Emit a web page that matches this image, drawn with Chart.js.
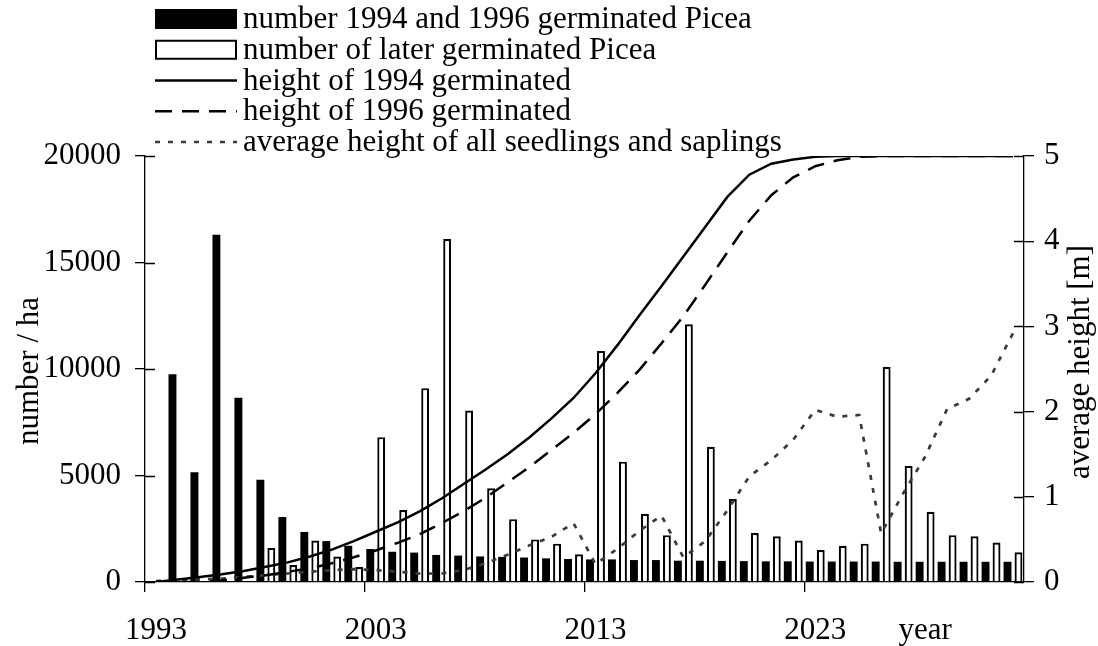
<!DOCTYPE html>
<html>
<head>
<meta charset="utf-8">
<title>Picea seedlings</title>
<script src="https://cdn.jsdelivr.net/npm/chart.js@4.4.0/dist/chart.umd.min.js"></script>
<style>
  html, body { margin: 0; padding: 0; background: #fff; }
  canvas { display: block; }
</style>
</head>
<body>
<canvas id="chart" width="1098" height="646"></canvas>
<script>
const years = ['1993', '1994', '1995', '1996', '1997', '1998', '1999', '2000', '2001', '2002',
  '2003', '2004', '2005', '2006', '2007', '2008', '2009', '2010', '2011', '2012',
  '2013', '2014', '2015', '2016', '2017', '2018', '2019', '2020', '2021', '2022',
  '2023', '2024', '2025', '2026', '2027', '2028', '2029', '2030', '2031', '2032'];

// seedlings per ha
const early = [0, 9750, 5150, 16300, 8650, 4800, 3050, 2350, 1920, 1700,
  1550, 1420, 1380, 1270, 1240, 1200, 1180, 1150, 1110, 1080,
  1060, 1060, 1030, 1030, 1000, 1000, 990, 980, 970, 970,
  960, 960, 960, 960, 950, 950, 950, 950, 950, 950];
const later = [0, 0, 0, 0, 0, 1600, 800, 1950, 1200, 700,
  6800, 3380, 9100, 16100, 8050, 4400, 2950, 2000, 1800, 1300,
  10850, 5650, 3200, 2200, 12100, 6350, 3900, 2300, 2150, 1950,
  1500, 1700, 1800, 10100, 5450, 3300, 2200, 2150, 1850, 1400];

// heights in m
const height1994 = [0, 0.03, 0.06, 0.09, 0.13, 0.18, 0.23, 0.30, 0.38, 0.48,
  0.59, 0.70, 0.83, 0.98, 1.15, 1.32, 1.50, 1.70, 1.92, 2.16,
  2.45, 2.78, 3.13, 3.47, 3.82, 4.17, 4.52, 4.78, 4.91, 4.96,
  4.99, 5, 5, 5, 5, 5, 5, 5, 5, 5];
const height1996 = [0, 0, 0, 0.02, 0.05, 0.08, 0.12, 0.16, 0.22, 0.29,
  0.37, 0.46, 0.56, 0.69, 0.83, 0.99, 1.17, 1.35, 1.55, 1.75,
  1.97, 2.22, 2.49, 2.80, 3.12, 3.49, 3.87, 4.24, 4.54, 4.75,
  4.88, 4.95, 4.99, 5, 5, 5, 5, 5, 5, 5];
const heightAll = [0.01, 0.02, 0.03, 0.04, 0.06, 0.08, 0.10, 0.12, 0.14, 0.15,
  0.14, 0.12, 0.10, 0.10, 0.14, 0.22, 0.32, 0.43, 0.53, 0.69,
  0.21, 0.39, 0.60, 0.78, 0.29, 0.48, 0.84, 1.24, 1.43, 1.67,
  2.02, 1.94, 1.96, 0.57, 1.04, 1.47, 2.03, 2.15, 2.42, 2.92];

const countTicks = [0, 5000, 10000, 15000, 20000];
const heightTicks = [0, 1, 2, 3, 4, 5];

const FONT = 'Liberation Serif';
const SIZE = 31;
Chart.defaults.font.family = FONT;
Chart.defaults.font.size = SIZE;
Chart.defaults.color = '#000';

// legend rows, cross ticks and the two vertical axis titles
const extras = {
  id: 'extras',
  afterDraw(chart) {
    const ctx = chart.ctx;
    const area = chart.chartArea;
    ctx.save();
    ctx.strokeStyle = '#000';
    ctx.lineWidth = 1.3;

    // inner half of the y ticks
    const yl = chart.scales.y, yr = chart.scales.y1;
    ctx.beginPath();
    yl.ticks.forEach(t => {
      const p = Math.round(yl.getPixelForValue(t.value)) + 0.5;
      ctx.moveTo(area.left, p); ctx.lineTo(area.left + 10, p);
    });
    yr.ticks.forEach(t => {
      const p = Math.round(yr.getPixelForValue(t.value)) + 0.5;
      ctx.moveTo(area.right - 10, p); ctx.lineTo(area.right, p);
    });
    ctx.stroke();

    ctx.fillStyle = '#000';
    ctx.font = SIZE + 'px "' + FONT + '"';
    ctx.textAlign = 'center';
    ctx.textBaseline = 'middle';
    ctx.save();
    ctx.translate(30, 371);
    ctx.rotate(-Math.PI / 2);
    ctx.fillText('number / ha', 0, 0);
    ctx.restore();
    ctx.save();
    ctx.translate(1081, 362);
    ctx.rotate(-Math.PI / 2);
    ctx.fillText('average height [m]', 0, 0);
    ctx.restore();

    // legend
    const x0 = 155, x1 = 237;
    ctx.textAlign = 'left';
    chart.data.datasets.forEach((ds, k) => {
      const y = 19 + k * 30.75;
      if (ds.type === 'bar') {
        ctx.fillStyle = ds.backgroundColor;
        ctx.fillRect(x0, y - 10, x1 - x0, 20);
        if (ds.borderWidth) {
          ctx.lineWidth = 2;
          ctx.strokeStyle = '#000';
          ctx.strokeRect(x0 + 1, y - 9, x1 - x0 - 2, 18);
        }
      } else {
        ctx.beginPath();
        ctx.setLineDash(ds.borderDash || []);
        ctx.lineWidth = ds.borderWidth;
        ctx.strokeStyle = ds.borderColor;
        ctx.moveTo(x0, y); ctx.lineTo(x1, y);
        ctx.stroke();
        ctx.setLineDash([]);
      }
      ctx.fillStyle = '#000';
      ctx.fillText(ds.label, 243, y + 1);
    });
    ctx.restore();
  }
};

new Chart(document.getElementById('chart'), {
  data: {
    labels: years,
    datasets: [
      {
        type: 'bar', label: 'number 1994 and 1996 germinated Picea', data: early,
        backgroundColor: '#000', borderWidth: 0, yAxisID: 'y', order: 1,
        categoryPercentage: 1, barPercentage: 0.72
      },
      {
        type: 'bar', label: 'number of later germinated Picea', data: later,
        backgroundColor: '#fff', borderColor: '#000', borderWidth: 2.2, yAxisID: 'y', order: 1,
        categoryPercentage: 1, barPercentage: 0.72
      },
      {
        type: 'line', label: 'height of 1994 germinated', data: height1994,
        borderColor: '#000', borderWidth: 2.5, pointRadius: 0, yAxisID: 'y1', order: 0
      },
      {
        type: 'line', label: 'height of 1996 germinated', data: height1996,
        borderColor: '#000', borderWidth: 2.5, borderDash: [17, 10], pointRadius: 0, yAxisID: 'y1', order: 0
      },
      {
        type: 'line', label: 'average height of all seedlings and saplings', data: heightAll,
        borderColor: '#3a3a3a', borderWidth: 2.7, borderDash: [5, 8], pointRadius: 0, yAxisID: 'y1', order: 0
      }
    ]
  },
  options: {
    responsive: false,
    animation: false,
    devicePixelRatio: 1,
    layout: { padding: { top: 156 } },
    plugins: { legend: { display: false }, tooltip: { enabled: false } },
    scales: {
      x: {
        type: 'category',
        offset: true,
        afterFit(s) { s.height = 64; },
        grid: {
          offset: true,
          drawOnChartArea: false,
          tickLength: 10,
          lineWidth: 1.3,
          color: c => c.index % 10 === 0 ? '#000' : 'rgba(0,0,0,0)'
        },
        border: { color: '#000', width: 1.3 },
        ticks: {
          autoSkip: false,
          maxRotation: 0,
          padding: 20,
          callback(value, index) {
            if (index % 10 === 0) return this.getLabelForValue(value);
            if (index === 35) return 'year';
            return '';
          }
        }
      },
      y: {
        position: 'left',
        min: 0, max: 20000,
        afterFit(s) { s.width = 145; },
        afterBuildTicks(s) { s.ticks = countTicks.map(v => ({ value: v })); },
        grid: { drawOnChartArea: false, tickLength: 10, color: '#000', lineWidth: 1.3 },
        border: { color: '#000', width: 1.3 },
        ticks: { padding: 14, callback: v => String(v) }
      },
      y1: {
        position: 'right',
        min: 0, max: 5,
        afterFit(s) { s.width = 74; },
        afterBuildTicks(s) { s.ticks = heightTicks.map(v => ({ value: v })); },
        grid: { drawOnChartArea: false, tickLength: 10, color: '#000', lineWidth: 1.3 },
        border: { color: '#000', width: 1.3 },
        ticks: { padding: 10, callback: v => String(v) }
      }
    }
  },
  plugins: [extras]
});
</script>
</body>
</html>
